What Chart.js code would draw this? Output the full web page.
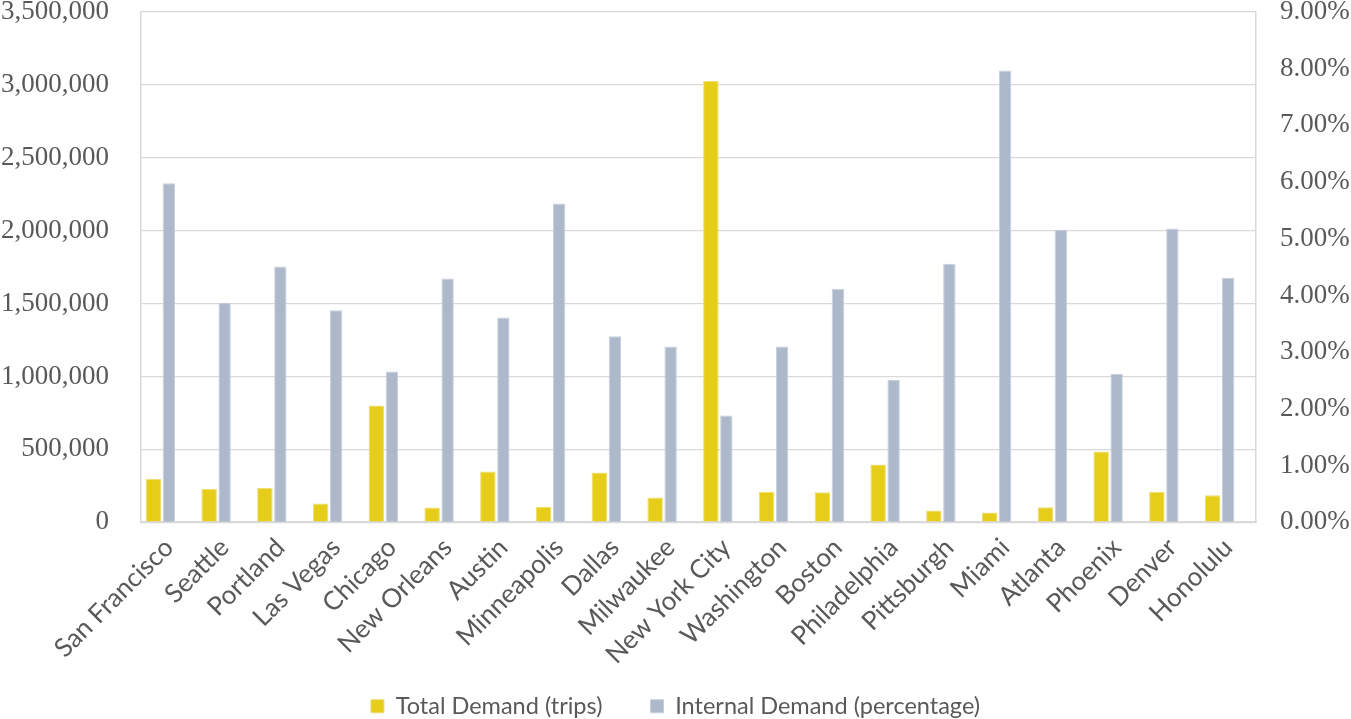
<!DOCTYPE html>
<html>
<head>
<meta charset="utf-8">
<script src="https://cdn.jsdelivr.net/npm/chart.js@4/dist/chart.umd.min.js"></script>
<style>
  html, body { margin: 0; padding: 0; background: #ffffff; }
  #wrap { width: 1351px; height: 719px; }
</style>
</head>
<body>
<div id="wrap"><canvas id="c" width="1351" height="719"></canvas></div>
<script>
const categories = ["San Francisco", "Seattle", "Portland", "Las Vegas", "Chicago", "New Orleans", "Austin", "Minneapolis", "Dallas", "Milwaukee", "New York City", "Washington", "Boston", "Philadelphia", "Pittsburgh", "Miami", "Atlanta", "Phoenix", "Denver", "Honolulu"];
const totalDemand = [298000, 229000, 236000, 128000, 801000, 101000, 348000, 106000, 341000, 170000, 3026000, 209000, 206000, 396000, 80000, 67000, 103000, 485000, 209000, 185000];
const internalDemand = [5.98, 3.87, 4.51, 3.74, 2.66, 4.30, 3.61, 5.62, 3.28, 3.10, 1.88, 3.10, 4.12, 2.51, 4.56, 7.97, 5.16, 2.62, 5.18, 4.31];
const leftTicks = { min: 0, max: 3500000, step: 500000 };
const rightTicks = { min: 0, max: 9, step: 1 };
const seriesNames = ["Total Demand (trips)", "Internal Demand (percentage)"];

const gridColor = '#D9D9D9';
const textColor = '#595959';
const serif = "'Liberation Serif', 'Times New Roman', serif";
const sans = "Lato, 'Open Sans', sans-serif";

new Chart(document.getElementById('c'), {
  type: 'bar',
  data: {
    labels: categories,
    datasets: [
      {
        label: seriesNames[0],
        data: totalDemand,
        yAxisID: 'y',
        backgroundColor: '#E5CD1A',
        borderColor: '#EEDD72',
        borderWidth: 1,
        barPercentage: 1.0,
        categoryPercentage: 0.834
      },
      {
        label: seriesNames[1],
        data: internalDemand,
        yAxisID: 'y1',
        backgroundColor: '#ADB9CA',
        borderColor: '#C6CFDB',
        borderWidth: 1,
        barPercentage: 0.8,
        categoryPercentage: 0.834
      },
      {
        label: '',
        data: [],
        yAxisID: 'y',
        backgroundColor: 'rgba(0,0,0,0)',
        barPercentage: 1.0,
        categoryPercentage: 0.834
      }
    ]
  },
  options: {
    responsive: false,
    animation: false,
    devicePixelRatio: 1,
    layout: { autoPadding: false, padding: { top: 12, left: 0, right: 0, bottom: -9 } },
    plugins: {
      tooltip: { enabled: false },
      legend: {
        position: 'bottom',
        labels: {
          filter: (item) => item.text !== '',
          color: textColor,
          font: { family: sans, size: 23.5 },
          boxWidth: 13,
          boxHeight: 13,
          padding: 48,
          useBorderRadius: false
        }
      }
    },
    scales: {
      x: {
        grid: { display: false, drawTicks: false },
        border: { display: true, color: gridColor, width: 1.5 },
        ticks: {
          color: textColor,
          font: { family: sans, size: 26 },
          maxRotation: 45,
          minRotation: 45,
          autoSkip: false,
          padding: 10
        },
        afterFit: (s) => {
          s.height = 727.5 - 521.7 - (23.5 + 48 + 10);
          s._computeLabelArea = () => undefined;
        }
      },
      y: {
        position: 'left',
        min: leftTicks.min,
        max: leftTicks.max,
        grid: { color: gridColor, lineWidth: 1.3, drawTicks: true, tickLength: 32, tickColor: 'rgba(0,0,0,0)' },
        border: { display: true, color: gridColor, width: 1.5 },
        ticks: {
          stepSize: leftTicks.step,
          color: textColor,
          font: { family: serif, size: 27, lineHeight: 0.85 },
          padding: 0,
          callback: (v) => Number(v).toLocaleString('en-US')
        },
        afterFit: (s) => { s.width = 141; }
      },
      y1: {
        position: 'right',
        min: rightTicks.min,
        max: rightTicks.max,
        grid: { drawOnChartArea: false, drawTicks: true, tickLength: 24, tickColor: 'rgba(0,0,0,0)' },
        border: { display: true, color: gridColor, width: 1.5 },
        ticks: {
          stepSize: rightTicks.step,
          color: textColor,
          font: { family: serif, size: 27, lineHeight: 0.85 },
          padding: 0,
          callback: (v) => Number(v).toFixed(2) + '%'
        },
        afterFit: (s) => { s.width = 95; }
      }
    }
  }
});
</script>
</body>
</html>
